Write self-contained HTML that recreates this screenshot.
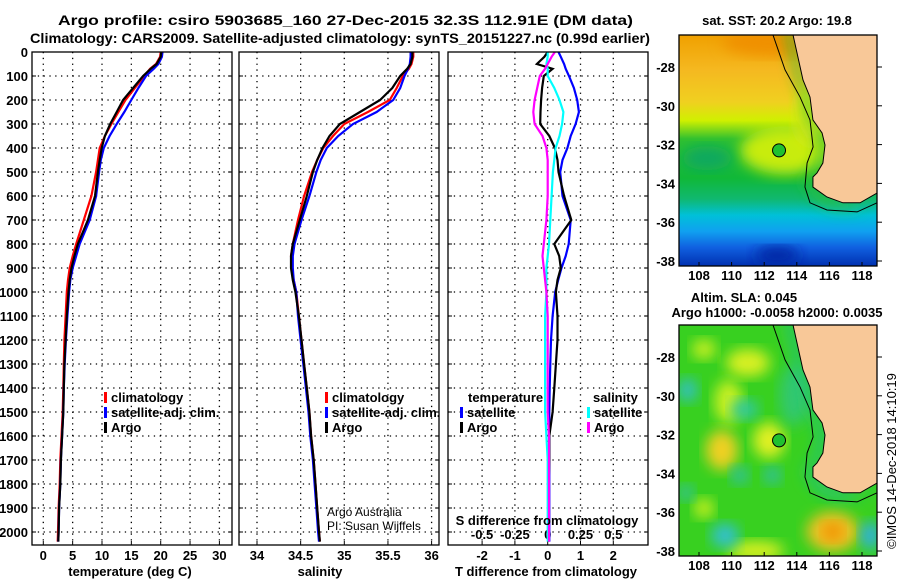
<!DOCTYPE html>
<html><head><meta charset="utf-8"><style>
html,body{margin:0;padding:0;background:#fff;width:900px;height:580px;overflow:hidden}
svg{display:block;font-family:"Liberation Sans",Arial,sans-serif}
.b{font-weight:bold;font-size:13px;fill:#000}
</style></head><body>
<svg id="fig" width="900" height="580" viewBox="0 0 900 580" xmlns="http://www.w3.org/2000/svg">
<defs>
<filter id="blur" x="-20%" y="-20%" width="140%" height="140%"><feGaussianBlur stdDeviation="7"/></filter>
<clipPath id="clipTop"><rect x="679" y="35" width="198" height="231"/></clipPath>
<clipPath id="clipBot"><rect x="679" y="325" width="198" height="231"/></clipPath>
<linearGradient id="sstGrad" x1="0" y1="0" x2="0" y2="1">
<stop offset="0" stop-color="#f0a000"/><stop offset="0.15" stop-color="#f5b820"/>
<stop offset="0.29" stop-color="#f0d020"/><stop offset="0.37" stop-color="#d0f000"/>
<stop offset="0.45" stop-color="#30c030"/><stop offset="0.62" stop-color="#10b838"/>
<stop offset="0.71" stop-color="#10b870"/><stop offset="0.78" stop-color="#00c0d8"/>
<stop offset="0.85" stop-color="#10a0f0"/><stop offset="0.92" stop-color="#1060e0"/>
<stop offset="1" stop-color="#0030b0"/></linearGradient>
</defs>
<text class="b" x="58" y="25" textLength="575" lengthAdjust="spacingAndGlyphs" style="font-size:14px">Argo profile: csiro 5903685_160 27-Dec-2015 32.3S 112.91E (DM data)</text>
<text class="b" x="30" y="43" textLength="620" lengthAdjust="spacingAndGlyphs" style="font-size:14px">Climatology: CARS2009. Satellite-adjusted climatology: synTS_20151227.nc (0.99d earlier)</text>
<g id="panels"></g>
<g id="maps"></g>
<text class="b" x="777" y="25" text-anchor="middle">sat. SST: 20.2 Argo: 19.8</text>
<text class="b" x="744" y="302" text-anchor="middle">Altim. SLA: 0.045</text>
<text class="b" x="777" y="317" text-anchor="middle">Argo h1000: -0.0058 h2000: 0.0035</text>
<text x="0" y="0" font-size="13" transform="translate(896,461) rotate(-90)" text-anchor="middle">©IMOS 14-Dec-2018 14:10:19</text>
<text class="b" x="130" y="576" text-anchor="middle">temperature (deg C)</text>
<text class="b" x="320" y="576" text-anchor="middle">salinity</text>
<text class="b" x="546" y="576" text-anchor="middle">T difference from climatology</text>
<text class="b" x="547" y="525" text-anchor="middle">S difference from climatology</text>
<text x="327" y="516" font-size="12">Argo Australia</text>
<text x="327" y="530" font-size="12">PI: Susan Wijffels</text>
</svg>
<script>
// ---- data ----
const depths = [0,20,50,70,100,150,200,250,300,350,400,450,500,600,700,800,850,900,950,1000,1100,1200,1300,1400,1500,1600,1700,1800,1900,2000,2040];
const tempArgo = [20.1,20.0,19.3,18.3,17.0,15.3,13.6,12.5,11.4,10.5,9.95,9.6,9.3,8.8,7.6,5.9,5.3,4.8,4.5,4.3,4.0,3.8,3.6,3.5,3.4,3.2,3.0,2.9,2.7,2.6,2.55];
const tempClim = [20.0,19.9,19.2,18.2,17.2,15.6,14.0,12.8,11.6,10.5,9.6,9.3,9.0,8.2,6.9,5.6,5.0,4.5,4.2,4.0,3.8,3.6,3.5,3.4,3.3,3.1,2.9,2.8,2.6,2.5,2.45];
const tempSat  = [20.3,20.2,19.6,18.8,17.5,16.2,15.0,13.8,12.5,11.3,10.3,9.8,9.5,9.0,7.9,6.2,5.6,5.0,4.6,4.4,4.1,3.85,3.65,3.5,3.4,3.2,3.0,2.9,2.7,2.6,2.55];
const salArgo = [35.78,35.78,35.76,35.72,35.64,35.55,35.41,35.18,34.95,34.83,34.75,34.69,34.64,34.57,34.49,34.41,34.39,34.39,34.41,34.44,34.48,34.51,34.54,34.57,34.6,34.62,34.65,34.67,34.69,34.71,34.72];
const salClim = [35.79,35.79,35.77,35.74,35.67,35.6,35.52,35.27,35.0,34.87,34.76,34.69,34.63,34.54,34.47,34.41,34.39,34.4,34.42,34.45,34.48,34.51,34.54,34.57,34.6,34.62,34.65,34.67,34.69,34.71,34.72];
const salSat  = [35.76,35.76,35.75,35.73,35.69,35.64,35.56,35.37,35.1,34.93,34.8,34.73,34.68,34.6,34.51,34.43,34.41,34.41,34.42,34.45,34.47,34.5,34.53,34.56,34.59,34.61,34.64,34.66,34.68,34.7,34.71];
const tDiffSat  = [0.33,0.4,0.5,0.55,0.65,0.8,0.9,0.95,0.85,0.7,0.6,0.45,0.38,0.45,0.7,0.64,0.55,0.42,0.32,0.23,0.15,0.1,0.08,0.06,0.05,0.05,0.05,0.05,0.05,0.05,0.05];
const tDiffArgo = [0.0,-0.1,-0.33,0.15,-0.12,-0.17,-0.2,-0.22,-0.23,0.05,0.22,0.3,0.33,0.5,0.72,0.2,0.35,0.4,0.3,0.25,0.3,0.3,0.25,0.2,0.15,0.05,0.05,0.03,0.03,0.02,0.02];
const sDiffSat  = [0.0,0.0,-0.01,0.0,0.0,0.05,0.09,0.12,0.11,0.09,0.06,0.05,0.04,0.03,0.02,0.01,0.0,-0.01,-0.01,-0.01,-0.02,-0.02,-0.02,-0.02,-0.02,-0.01,0.0,0.0,0.0,0.0,0.0];
const sDiffArgo = [0.055,0.03,0.0,-0.02,-0.06,-0.08,-0.1,-0.11,-0.1,-0.04,-0.01,0.0,0.0,0.0,-0.01,-0.03,-0.04,-0.03,-0.02,-0.01,0.0,0.0,0.0,0.0,0.0,0.01,0.01,0.01,0.01,0.01,0.01];
const depthTicks = [0,100,200,300,400,500,600,700,800,900,1000,1100,1200,1300,1400,1500,1600,1700,1800,1900,2000];
const tempTicks = [0,5,10,15,20,25,30];
const salTicks = [34,34.5,35,35.5,36];
const tDiffTicks = [-2,-1,0,1,2];
const sDiffTicks = [-0.5,-0.25,0,0.25,0.5];
const lonTicks = [108,110,112,114,116,118];
const latTicks = [-28,-30,-32,-34,-36,-38];
const argoLon = 112.91, argoLat = -32.3;

const NS='http://www.w3.org/2000/svg';
function mk(tag, attrs, parent){const e=document.createElementNS(NS,tag);for(const k in attrs)e.setAttribute(k,attrs[k]);parent.appendChild(e);return e;}
const yD = d => 52 + d*0.24;
const xT = v => 43.3 + v*5.87;
const xS = v => 257 + (v-34)*87.3;
const xTD = v => 547.7 + v*32.8;
const xSD = v => 547.7 + v*131.2;
const P = document.getElementById('panels');
const frames = [{x0:32,x1:232,name:'temperature'},{x0:239,x1:439,name:'salinity'},{x0:448,x1:648,name:'difference'}];
const Y0=52, Y1=545;

frames.forEach(f=>{
  depthTicks.slice(1).forEach(d=>{
    const g=mk('line',{x1:f.x0,x2:f.x1,y1:yD(d),y2:yD(d),stroke:'#000','stroke-width':1.3,'stroke-dasharray':'1.3 4.5'},P);
    
    
    const t1=mk('line',{x1:f.x0,x2:f.x0+4,y1:yD(d),y2:yD(d),stroke:'#000'},P);
    
    
    const t2=mk('line',{x1:f.x1-4,x2:f.x1,y1:yD(d),y2:yD(d),stroke:'#000'},P);
    
    
  });
});
function vgrid(ticks, fx, name){
  ticks.forEach(v=>{
    const g=mk('line',{x1:fx(v),x2:fx(v),y1:Y0,y2:Y1,stroke:'#000','stroke-width':1.3,'stroke-dasharray':'1.3 4.5'},P);
    
    
    const t=mk('line',{x1:fx(v),x2:fx(v),y1:Y1-4,y2:Y1,stroke:'#000'},P);
    
    
  });
}
vgrid(tempTicks,xT,'temperature');
vgrid(salTicks,xS,'salinity');
vgrid(tDiffTicks,xTD,'t-difference');
function tickLabels(ticks, fx, y, name){
  ticks.forEach(v=>{
    const t=mk('text',{x:fx(v),y:y,'text-anchor':'middle',class:'b'},P);
    
    
    t.textContent=String(v);
  });
}
tickLabels(tempTicks,xT,560,'temperature');
tickLabels(salTicks,xS,560,'salinity');
tickLabels(tDiffTicks,xTD,560,'t-difference');
sDiffTicks.forEach(v=>{
  const t=mk('text',{x:xSD(v),y:539,'text-anchor':'middle',class:'b'},P);
  
  
  t.textContent=String(v);
});
depthTicks.forEach(d=>{
  const t=mk('text',{x:28,y:yD(d)+5,'text-anchor':'end',class:'b'},P);
  
  
  t.textContent=String(d);
});
function series(vals, fx, color, name){
  const pts=vals.map((v,i)=>fx(v).toFixed(1)+','+yD(depths[i]).toFixed(1)).join(' ');
  const l=mk('polyline',{points:pts,fill:'none',stroke:color,'stroke-width':2.2,'stroke-linejoin':'miter'},P);
  
  
}
series(tempClim,xT,'#ff0000','temperature-climatology-line');
series(tempSat,xT,'#0000ff','temperature-satellite-line');
series(tempArgo,xT,'#000000','temperature-argo-line');
series(salClim,xS,'#ff0000','salinity-climatology-line');
series(salSat,xS,'#0000ff','salinity-satellite-line');
series(salArgo,xS,'#000000','salinity-argo-line');
series(tDiffSat,xTD,'#0000ff','t-diff-satellite-line');
series(tDiffArgo,xTD,'#000000','t-diff-argo-line');
series(sDiffSat,xSD,'#00ffff','s-diff-satellite-line');
series(sDiffArgo,xSD,'#ff00ff','s-diff-argo-line');
frames.forEach(f=>{
  const r=mk('rect',{x:f.x0,y:Y0,width:f.x1-f.x0,height:Y1-Y0,fill:'none',stroke:'#000','stroke-width':1.3},P);
  
  
});
function legend(x,y,items,prefix){
  items.forEach((it,i)=>{
    const m=mk('rect',{x:x,y:y+i*15-10,width:3,height:11,fill:it[1]},P);
    
    
    const t=mk('text',{x:x+7,y:y+i*15,class:'b'},P);
    
    
    t.textContent=it[0];
  });
}
legend(104,402,[['climatology','#ff0000'],['satellite-adj. clim.','#0000ff'],['Argo','#000000']],'temperature');
legend(325,402,[['climatology','#ff0000'],['satellite-adj. clim.','#0000ff'],['Argo','#000000']],'salinity');
const lh=mk('text',{x:468,y:402,class:'b'},P);


lh.textContent='temperature';
const lh2=mk('text',{x:593,y:402,class:'b'},P);


lh2.textContent='salinity';
legend(460,417,[['satellite','#0000ff'],['Argo','#000000']],'t-difference');
legend(587,417,[['satellite','#00ffff'],['Argo','#ff00ff']],'s-difference');

// ---- maps ----
const M=document.getElementById('maps');
const coast=[[113.6,-26.0],[113.77,-26.35],[114.38,-28.67],[114.81,-29.55],[114.99,-30.73],[115.55,-31.4],[115.73,-32.02],[115.6,-32.95],[115.24,-33.46],[114.99,-33.67],[114.99,-34.19],[115.85,-34.7],[116.83,-35.0],[117.88,-35.0],[118.92,-34.5],[119.2,-34.4]];
const contour=[[112.5,-26.0],[112.54,-26.35],[113.28,-28.15],[114.2,-29.55],[114.81,-30.73],[115.0,-32.12],[114.63,-32.95],[114.5,-34.19],[114.81,-35.0],[115.85,-35.37],[117.7,-35.47],[118.92,-35.0],[119.2,-34.9]];
function mapPanel(top,clip,name,bandColor,fieldFn){
  const px=lon=>699+(lon-108)*16.3, py=lat=>top+32+(-28-lat)*19.4;
  const g=mk('g',{'clip-path':'url(#'+clip+')'},M);
  
  
  fieldFn(g,px,py);
  const outer=coast.map(p=>[p[0]-0.4,p[1]-(p[1]<-34.3?0.3:0)]);
  const bandPts=outer.concat(coast.slice().reverse());
  const band=mk('polygon',{points:bandPts.map(p=>px(p[0])+','+py(p[1])).join(' '),fill:bandColor,filter:'url(#blur)'},g);
  
  
  const landPts=coast.concat([[119.2,-26.0]]);
  const land=mk('polygon',{points:landPts.map(p=>px(p[0])+','+py(p[1])).join(' '),fill:'#f8c898',stroke:'#000','stroke-width':1},g);
  
  
  const c=mk('polyline',{points:contour.map(p=>px(p[0])+','+py(p[1])).join(' '),fill:'none',stroke:'#000','stroke-width':1},g);
  
  
  const mark=mk('circle',{cx:px(argoLon),cy:py(argoLat),r:6.5,fill:'#20c030',stroke:'#000','stroke-width':1},g);
  
  
  const fr=mk('rect',{x:679,y:top,width:198,height:231,fill:'none',stroke:'#000','stroke-width':1.3},M);
  
  
  lonTicks.forEach(v=>{
    const t=mk('text',{x:px(v),y:top+245,'text-anchor':'middle',class:'b'},M);
    
    
    t.textContent=String(v);
    const k=mk('line',{x1:px(v),x2:px(v),y1:top+231,y2:top+227,stroke:'#000'},M);
    
    
  });
  latTicks.forEach(v=>{
    const t=mk('text',{x:675,y:py(v)+5,'text-anchor':'end',class:'b'},M);
    
    
    t.textContent=String(v);
    const k=mk('line',{x1:877,x2:882,y1:py(v),y2:py(v),stroke:'#000'},M);
    
    
  });
}
function blob(g,cx,cy,rx,ry,col,name){
  const e=mk('ellipse',{cx:cx,cy:cy,rx:rx,ry:ry,fill:col,filter:'url(#blur)'},g);
  
  
}
mapPanel(35,'clipTop','sst','#30c030',(g,px,py)=>{
  const r=mk('rect',{x:679,y:35,width:198,height:231,fill:'url(#sstGrad)'},g);
  
  
  blob(g,px(112.5),py(-26.7),50,14,'#f09000','sst-warm-patch');
  blob(g,px(113.3),py(-32.3),45,24,'#c8ec10','sst-yellow-green-patch');
  blob(g,px(114.8),py(-30.5),15,30,'#d8e818','sst-coastal-yellow');
  blob(g,px(108.5),py(-32.7),25,12,'#10a860','sst-cool-patch');
  blob(g,px(112.8),py(-37.7),22,8,'#0020a0','sst-cold-patch');
});
mapPanel(325,'clipBot','sla','#20c090',(g,px,py)=>{
  const r=mk('rect',{x:679,y:325,width:198,height:231,fill:'#38d020'},g);
  
  
  const blobs=[[108.3,-27.6,12,10,'#c8f020'],[111,-28.3,22,14,'#d8f020'],[109.8,-30.3,14,22,'#c8f020'],[112.3,-32.3,16,18,'#e0f020'],[109.4,-32.8,16,20,'#f0d020'],[108.3,-35.8,10,10,'#c8f020'],[111.5,-38,28,10,'#d8f020'],[116.2,-37,26,20,'#f0c020'],[116.2,-37,10,9,'#f09000'],[107.3,-29.7,10,12,'#30c0c0'],[110.8,-30.7,14,10,'#30c8a0'],[109.6,-37.2,14,12,'#30c0d0'],[110.5,-34.1,9,9,'#30c0a0'],[112.5,-34.1,9,9,'#30c0a0'],[118.5,-37.2,10,14,'#30b0e0'],[107.2,-35,8,8,'#30c0a0'],[113.8,-30,14,30,'#30c870']];
  blobs.forEach(b=>blob(g,px(b[0]),py(b[1]),b[2],b[3],b[4],'sla-anomaly-blob'));
});
</script>
</body></html>
